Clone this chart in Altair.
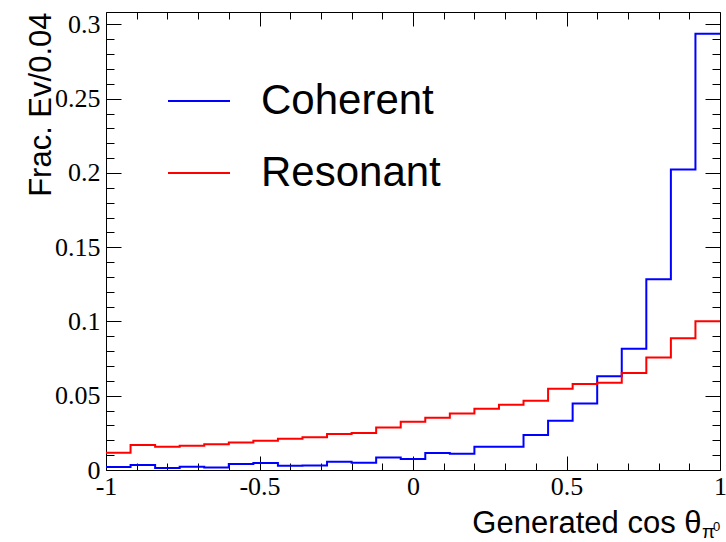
import altair as alt
import pandas as pd

# bin edges of the histogram (25 bins of width 0.08 from -1 to 1)
edges = [-1.0, -0.92, -0.84, -0.76, -0.68, -0.6, -0.52, -0.44, -0.36, -0.28,
         -0.2, -0.12, -0.04, 0.04, 0.12, 0.2, 0.28, 0.36, 0.44, 0.52,
         0.6, 0.68, 0.76, 0.84, 0.92, 1.0]

coherent = [0.0020, 0.0034, 0.0013, 0.0022, 0.0016, 0.0040, 0.0047, 0.0029,
            0.0031, 0.0056, 0.0049, 0.0085, 0.0074, 0.0114, 0.0110, 0.0157,
            0.0157, 0.0235, 0.0332, 0.0448, 0.0632, 0.0816, 0.1285, 0.2023,
            0.2938]
resonant = [0.0117, 0.0168, 0.0157, 0.0164, 0.0173, 0.0186, 0.0197, 0.0211,
             0.0220, 0.0242, 0.0249, 0.0287, 0.0325, 0.0352, 0.0381, 0.0413,
             0.0440, 0.0466, 0.0547, 0.0579, 0.0588, 0.0653, 0.0758, 0.0888,
             0.1002]

series_names = ["Coherent", "Resonant"]
series_colors = ["#0000ff", "#ff0000"]

x_major = [-1, -0.5, 0, 0.5, 1]
x_minor = [-0.9, -0.8, -0.7, -0.6, -0.4, -0.3, -0.2, -0.1,
           0.1, 0.2, 0.3, 0.4, 0.6, 0.7, 0.8, 0.9]
y_major = [0, 0.05, 0.1, 0.15, 0.2, 0.25, 0.3]
y_minor = [0.01, 0.02, 0.03, 0.04, 0.06, 0.07, 0.08, 0.09, 0.11, 0.12, 0.13,
           0.14, 0.16, 0.17, 0.18, 0.19, 0.21, 0.22, 0.23, 0.24, 0.26, 0.27,
           0.28, 0.29]

rows = []
for name, vals in zip(series_names, [coherent, resonant]):
    for i, v in enumerate(vals):
        rows.append({"x": edges[i], "frac": v, "sample": name})
    rows.append({"x": edges[-1], "frac": vals[-1], "sample": name})
df = pd.DataFrame(rows)

W, H = 614, 458
xs = alt.Scale(domain=[-1, 1], nice=False, zero=False)
ys = alt.Scale(domain=[0, 0.3084], nice=False, zero=False)

tick_common = dict(labels=False, domain=False, grid=False, title=None,
                   tickColor="black", tickWidth=1)

main = alt.Chart(df).mark_line(interpolate="step-after", strokeWidth=2).encode(
    x=alt.X("x:Q", scale=xs, axis=alt.Axis(
        values=x_major, ticks=False, domain=False, grid=False,
        labelExpr="'' + datum.value", labelFont="Liberation Serif",
        labelFontSize=26, labelColor="black", labelPadding=3,
        labelFlush=False, labelOverlap=False, labelBound=False,
        title="Generated cos θ", titleFont="Liberation Sans", titleFontSize=31,
        titleFontWeight="normal", titleColor="black", titleAlign="right",
        titleX=595, titleY=62, titleBaseline="alphabetic")),
    y=alt.Y("frac:Q", scale=ys, axis=alt.Axis(
        values=y_major, ticks=False, domain=False, grid=False,
        labelExpr="'' + datum.value", labelFont="Liberation Serif",
        labelFontSize=26, labelColor="black", labelPadding=6,
        labelOverlap=False, labelBound=False, labelFlush=False,
        title="Frac. Ev/0.04", titleFont="Liberation Sans", titleFontSize=31,
        titleFontWeight="normal", titleColor="black", titleAngle=270,
        titleAlign="right", titleX=-56, titleY=0, titleBaseline="alphabetic")),
    color=alt.Color("sample:N", scale=alt.Scale(domain=series_names, range=series_colors),
                    legend=alt.Legend(orient="none", legendX=61, legendY=57, title=None,
                                      symbolType="stroke", symbolSize=3844,
                                      symbolStrokeWidth=2, labelFont="Liberation Sans",
                                      labelFontSize=42, labelColor="black",
                                      labelOffset=30, rowPadding=19, padding=0,
                                      labelLimit=0)),
)


def tick_layer(xorient, yorient, xvals, yvals, xsize, ysize):
    return alt.Chart(df).mark_line(opacity=0).encode(
        x=alt.X("x:Q", scale=xs, axis=alt.Axis(orient=xorient, offset=-H, values=xvals,
                                               tickSize=xsize, **tick_common)),
        y=alt.Y("frac:Q", scale=ys, axis=alt.Axis(orient=yorient, offset=-W, values=yvals,
                                                  tickSize=ysize, **tick_common)),
    )


t1 = tick_layer("top", "right", x_major, y_major, 14, 15)
t2 = tick_layer("top", "right", x_minor, y_minor, 7, 8)
t3 = tick_layer("bottom", "left", x_major, y_major, 14, 15)
t4 = tick_layer("bottom", "left", x_minor, y_minor, 7, 8)

sub_pi = alt.Chart(pd.DataFrame({"s": ["π"]})).mark_text(
    font="Liberation Sans", fontSize=19, align="left", baseline="alphabetic", color="black"
).encode(x=alt.value(596), y=alt.value(526), text="s:N")
sub_0 = alt.Chart(pd.DataFrame({"s": ["0"]})).mark_text(
    font="Liberation Sans", fontSize=13, align="left", baseline="alphabetic", color="black"
).encode(x=alt.value(607), y=alt.value(519), text="s:N")

chart = alt.layer(main, t1, t2, t3, t4, sub_pi, sub_0).resolve_axis(
    x="independent", y="independent"
).properties(
    width=W, height=H,
    autosize=alt.AutoSizeParams(type="none"),
    padding={"left": 106, "top": 12, "right": 6, "bottom": 72},
    background="white",
).configure_view(stroke="black", strokeWidth=1)

chart.save("out.html", embed_options={"renderer": "svg", "actions": False})
